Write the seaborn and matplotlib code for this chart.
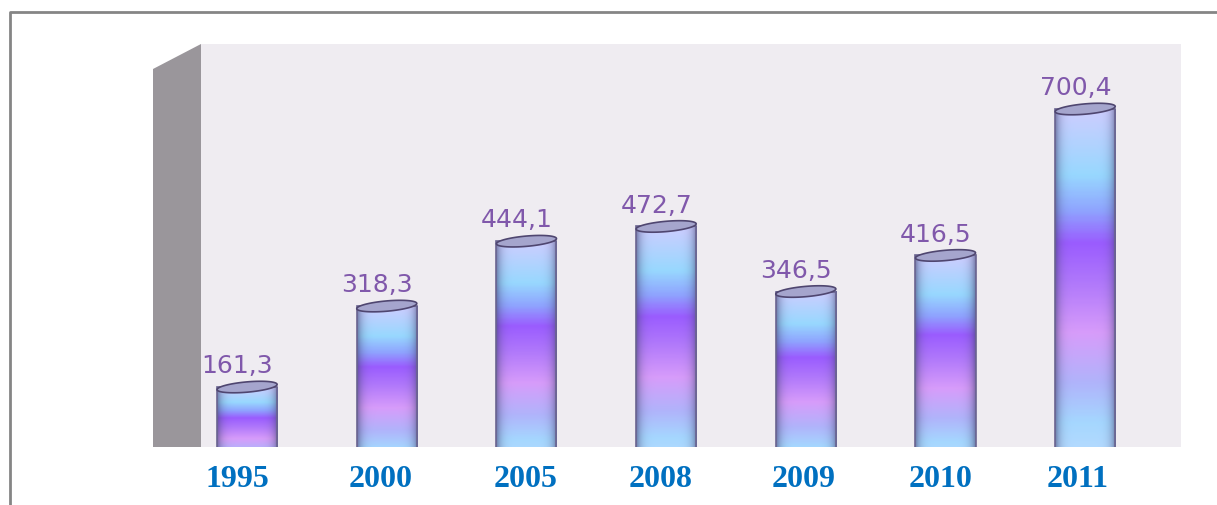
import numpy as np
import matplotlib
matplotlib.use("Agg")
import matplotlib.pyplot as plt
from matplotlib.colors import LinearSegmentedColormap
from matplotlib.patches import Polygon
from matplotlib.transforms import ScaledTranslation
import seaborn as sns

years = ["1995", "2000", "2005", "2008", "2009", "2010", "2011"]
values = [161.3, 318.3, 444.1, 472.7, 346.5, 416.5, 700.4]

W, H = 1217, 506
label_shift = [-10, -6, -1, -6, -2, -5, -8]  # year labels do not sit quite under the bars

sns.set_style("white")
fig = plt.figure(figsize=(W / 100, H / 100), dpi=100, facecolor="white")
ax = fig.add_axes([201 / W, (H - 448) / H, 980 / W, 403 / H])
ax.set_facecolor("#efecf1")

sns.barplot(x=years, y=values, ax=ax, width=0.43, facecolor="none",
            edgecolor="#6a6490", linewidth=1.2, zorder=3)

ax.set_xlim(-0.33, 6.686)
ax.set_ylim(45, 826.5)
ylim = ax.get_ylim()
xlim = ax.get_xlim()

# vertical colour band of the cylinders
cyl = LinearSegmentedColormap.from_list("cyl", [
    (0.00, "#cdcdff"), (0.18, "#98d8ff"), (0.28, "#8fa4ff"), (0.37, "#9a5cff"),
    (0.48, "#b078fb"), (0.62, "#d79cfa"), (0.76, "#b0b4fb"), (0.87, "#a5d7ff"),
    (1.00, "#bedcff")])
v = np.linspace(0, 1, 300)
u = np.linspace(-1, 1, 80)
band = cyl(v)[:, :3]
shade = (0.62 * np.abs(u) ** 6)[None, :, None]
dark = np.array([0.27, 0.27, 0.45])

for bar in ax.patches:
    x0, x1 = bar.get_x(), bar.get_x() + bar.get_width()
    top = bar.get_height()
    img = band[:, None, :] * (1 - shade) + dark * shade
    ax.imshow(img, extent=(x0, x1, 0, top), origin="upper", aspect="auto", zorder=2)

    # slightly tilted top ellipse
    t = np.linspace(0, 2 * np.pi, 80)
    cx = (x0 + x1) / 2
    ex = cx + (x1 - x0) / 2 * np.cos(t)
    ey = top + 10 * np.sin(t) + 5 * np.cos(t)
    ax.add_patch(Polygon(np.column_stack([ex, ey]), closed=True, facecolor="#a5a5cd",
                         edgecolor="#4f4670", linewidth=1.2, zorder=4))

ax.set_xlim(xlim)
ax.set_ylim(ylim)

for i, val in enumerate(values):
    ax.annotate(f"{val:.1f}".replace(".", ","), (i, val), xytext=(-7, 7),
                textcoords="offset points", ha="center", va="bottom",
                fontsize=18, color="#8058ab", family="DejaVu Sans", zorder=5)

ax.set_yticks([])
ax.set_xlabel("")
ax.set_ylabel("")
ax.tick_params(axis="x", length=0, pad=12)
for lab, dx in zip(ax.get_xticklabels(), label_shift):
    lab.set_family("Liberation Serif")
    lab.set_fontweight("bold")
    lab.set_fontsize(23)
    lab.set_color("#0070c0")
    lab.set_transform(lab.get_transform() + ScaledTranslation(dx / 100, 0, fig.dpi_scale_trans))
sns.despine(ax=ax, left=True, bottom=True)

# grey side wall of the 3D chart
wall = [(153 / W, (H - 70) / H), (201 / W, (H - 45) / H), (201 / W, (H - 448) / H), (153 / W, (H - 448) / H)]
fig.add_artist(Polygon(wall, closed=True, transform=fig.transFigure, facecolor="#9a969b", edgecolor="none"))

# frame cut off by the picture edge
fig.add_artist(plt.Line2D([10 / W, 10 / W, 1], [0, (H - 13) / H, (H - 13) / H],
                          transform=fig.transFigure, color="#858585", linewidth=2))

fig.savefig("out.png", dpi=100)
